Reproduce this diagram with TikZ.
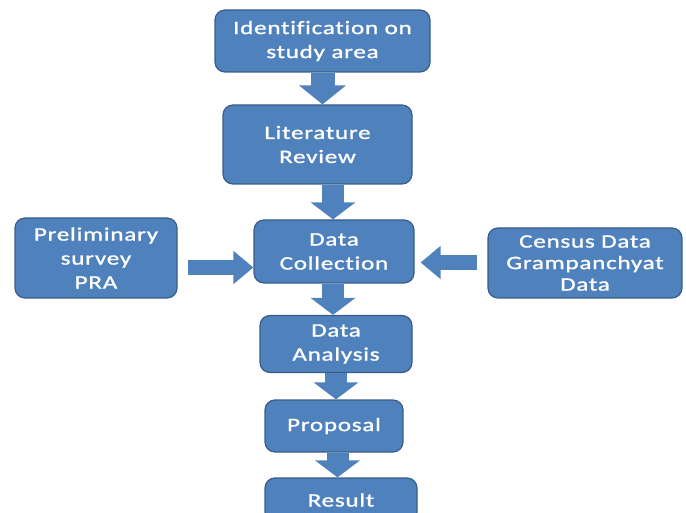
\documentclass[tikz,border=0pt]{standalone}
\usepackage{fontspec}
\setmainfont{Carlito}[FakeStretch=1.32, LetterSpace=4, FakeBold=1.2, Ligatures=CommonOff]
\usetikzlibrary{arrows.meta,calc}
\definecolor{boxblue}{RGB}{79,129,189}
\definecolor{boxedge}{RGB}{56,93,138}
\begin{document}
\begin{tikzpicture}[x=1pt,y=-1pt,
  box/.style={draw=boxedge, line width=1.2pt, fill=boxblue, rounded corners=10pt,
    text=white, align=center, inner sep=0pt,
    font=\fontsize{19}{24}\selectfont},
  varrow/.style={draw=boxblue, line width=22pt,
    -{Triangle[length=17pt,width=44pt]}},
  harrow/.style={draw=boxblue, line width=15pt,
    -{Triangle[length=20pt,width=32pt]}}
]
\useasboundingbox (0,0) rectangle (686,513);
\clip (0,0) rectangle (686,513);

\node[box, minimum width=215pt, minimum height=62pt] (ident) at (322.5,41) {Identification on\\study area};
\node[box, minimum width=189pt, minimum height=79pt] (lit) at (317.5,144.5) {Literature\\Review};
\node[box, minimum width=160pt, minimum height=63pt] (coll) at (334,251.5) {Data\\Collection};
\node[box, minimum width=162pt, minimum height=80pt] (prelim) at (96,258) {Preliminary\\survey\\PRA};
\node[box, minimum width=194pt, minimum height=70pt, font=\fontsize{19}{21.5}\selectfont] (census) at (585,263) {Census Data\\Grampanchyat\\Data};
\node[box, minimum width=152pt, minimum height=57pt] (anal) at (336,344) {Data\\Analysis};
\node[box, minimum width=138pt, minimum height=52pt] (prop) at (334,426) {Proposal};
\node[box, minimum width=152pt, minimum height=44pt] (result) at (341,500) {Result};

\draw[varrow, line width=24pt, -{Triangle[length=19pt,width=46pt]}] (ident.south) -- (ident.south |- lit.north);
\draw[varrow] ([xshift=-1pt]coll.north |- lit.south) -- ([xshift=-1pt]coll.north);
\draw[varrow] ([xshift=-1pt]coll.south) -- ([xshift=-1pt]coll.south |- anal.north);
\draw[varrow] (anal.south) -- (anal.south |- prop.north);
\draw[varrow] ([xshift=3.5pt]prop.south) -- ([xshift=3.5pt]prop.south |- result.north);

\draw[harrow] ([xshift=10pt,yshift=-9.5pt]prelim.east) -- ([yshift=-9.5pt]prelim.east -| coll.west);
\draw[harrow, shorten >=6pt] ([xshift=-10pt,yshift=0.5pt]census.west) -- ([yshift=0.5pt]census.west -| coll.east);
\end{tikzpicture}
\end{document}
